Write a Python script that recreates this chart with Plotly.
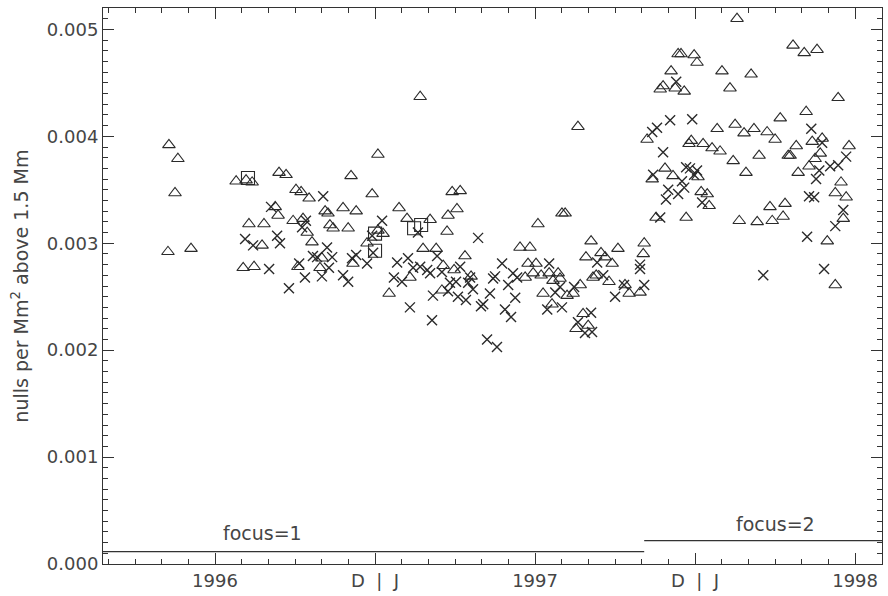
import plotly.graph_objects as go

# ---- data (decimal year, nulls per Mm^2) ----
tri_x = [1996.356, 1996.384, 1996.375, 1996.353, 1996.425, 1996.566, 1996.597, 1996.616, 1996.700, 1996.722,
         1996.753, 1996.769, 1996.688, 1996.697, 1996.606, 1996.653, 1996.744, 1996.775, 1996.647, 1996.588,
         1996.622, 1996.759, 1996.794, 1996.788, 1996.803, 1996.844, 1996.853, 1996.900, 1996.941, 1996.859,
         1996.869, 1996.916, 1996.925, 1996.991, 1997.009, 1997.075, 1997.141, 1996.828, 1996.834, 1996.931,
         1997.025, 1997.009, 1996.975, 1997.044, 1997.100, 1997.172, 1997.109, 1997.150, 1997.191, 1997.213,
         1997.209, 1997.225, 1997.228, 1997.241, 1997.266, 1997.256, 1997.281, 1997.247, 1997.300,
         1997.584, 1997.594, 1997.509, 1997.453, 1997.484, 1997.478, 1997.503, 1997.469, 1997.494, 1997.519,
         1997.544, 1997.572, 1997.578, 1997.556, 1997.525, 1997.600, 1997.619, 1997.641, 1997.553, 1997.650,
         1997.628, 1997.666, 1997.675, 1997.659, 1997.681, 1997.634,
         1997.759, 1997.841, 1997.838, 1997.706, 1997.719, 1997.741, 1997.691, 1997.731, 1997.781, 1997.828,
         1997.794,
         1998.131, 1997.947, 1997.956, 1997.997, 1998.006, 1997.925, 1998.084, 1997.891, 1997.900, 1997.938,
         1997.966, 1998.109, 1997.850, 1998.069, 1998.125, 1997.981, 1997.988, 1998.025, 1998.053, 1998.078,
         1998.119, 1997.906, 1997.866, 1997.931, 1998.009, 1998.019, 1998.038, 1998.044, 1997.878, 1997.972,
         1998.138,
         1998.306, 1998.341, 1998.381, 1998.175, 1998.447, 1998.347, 1998.266, 1998.153, 1998.184, 1998.225,
         1998.250, 1998.366, 1998.397, 1998.316, 1998.481, 1998.200, 1998.291, 1998.297, 1998.391, 1998.375,
         1998.356, 1998.322, 1998.159, 1998.456, 1998.438, 1998.472, 1998.463, 1998.234, 1998.281, 1998.275,
         1998.241, 1998.194, 1998.413, 1998.438]
tri_y = [0.00392, 0.00379, 0.00347, 0.00292, 0.00295, 0.00358, 0.00359, 0.00357, 0.00366, 0.00364,
         0.00350, 0.00348, 0.00334, 0.00326, 0.00318, 0.00318, 0.00321, 0.00323, 0.00298, 0.00277,
         0.00278, 0.00278, 0.00342, 0.00310, 0.00301, 0.00330, 0.00328, 0.00333, 0.00330, 0.00317,
         0.00314, 0.00314, 0.00363, 0.00346, 0.00383, 0.00333, 0.00437, 0.00277, 0.00286, 0.00281,
         0.00309, 0.00312, 0.00300, 0.00253, 0.00323, 0.00322, 0.00268, 0.00295, 0.00295, 0.00279,
         0.00256, 0.00311, 0.00326, 0.00348, 0.00349, 0.00332, 0.00288, 0.00275, 0.00269,
         0.00328, 0.00328, 0.00318, 0.00296, 0.00296, 0.00281, 0.00281, 0.00268, 0.00272, 0.00270,
         0.00272, 0.00272, 0.00267, 0.00265, 0.00253, 0.00251, 0.00253, 0.00261, 0.00243, 0.00234,
         0.00220, 0.00223, 0.00302, 0.00287, 0.00268, 0.00409,
         0.00295, 0.00300, 0.00290, 0.00291, 0.00287, 0.00281, 0.00270, 0.00264, 0.00261, 0.00254,
         0.00253,
         0.00510, 0.00477, 0.00477, 0.00476, 0.00469, 0.00461, 0.00461, 0.00444, 0.00447, 0.00445,
         0.00442, 0.00445, 0.00397, 0.00407, 0.00411, 0.00393, 0.00396, 0.00393, 0.00389, 0.00386,
         0.00377, 0.00370, 0.00360, 0.00363, 0.00362, 0.00348, 0.00346, 0.00335, 0.00324, 0.00324,
         0.00321,
         0.00485, 0.00478, 0.00481, 0.00458, 0.00436, 0.00423, 0.00417, 0.00403, 0.00407, 0.00404,
         0.00397, 0.00395, 0.00398, 0.00391, 0.00391, 0.00382, 0.00382, 0.00382, 0.00384, 0.00379,
         0.00372, 0.00366, 0.00366, 0.00357, 0.00347, 0.00343, 0.00323, 0.00334, 0.00337, 0.00325,
         0.00321, 0.00320, 0.00302, 0.00261]

cross_x = [1996.675, 1996.784, 1996.772, 1996.594, 1996.619, 1996.694, 1996.703, 1996.669, 1996.763, 1996.781,
           1996.731,
           1996.838, 1996.806, 1996.819, 1996.866, 1996.850, 1996.834, 1996.856, 1996.900, 1996.916, 1996.928,
           1996.941, 1996.975, 1997.022, 1996.991, 1996.994, 1997.069, 1997.103, 1997.059, 1997.084, 1997.119,
           1997.141, 1997.163, 1997.172, 1997.134, 1997.194, 1997.209, 1997.181, 1997.228, 1997.109, 1997.178,
           1997.322, 1997.266, 1997.297, 1997.234, 1997.253, 1997.291, 1997.306, 1997.259, 1997.284, 1997.338,
           1997.331, 1997.359, 1997.369, 1997.375, 1997.397, 1997.431, 1997.416, 1997.444, 1997.438, 1997.406,
           1997.425, 1997.544, 1997.578, 1997.563, 1997.622, 1997.538, 1997.584, 1997.350, 1997.381, 1997.634,
           1997.656, 1997.675, 1997.678,
           1997.941, 1997.922, 1997.991, 1997.881, 1997.866, 1997.900, 1997.869, 1997.972, 1997.984, 1998.006,
           1997.997, 1997.959, 1997.966, 1997.916, 1997.947, 1997.909, 1998.022, 1997.891, 1997.828, 1997.828,
           1997.841, 1997.778, 1997.750, 1997.694, 1997.713,
           1998.363, 1998.397, 1998.472, 1998.447, 1998.422, 1998.388, 1998.378, 1998.356, 1998.372, 1998.463,
           1998.438, 1998.350, 1998.213, 1998.403]
cross_y = [0.00334, 0.00321, 0.00315, 0.00304, 0.00298, 0.00307, 0.00300, 0.00276, 0.00281, 0.00268,
           0.00258,
           0.00344, 0.00288, 0.00287, 0.00287, 0.00296, 0.00269, 0.00277, 0.00270, 0.00264, 0.00286,
           0.00289, 0.00281, 0.00321, 0.00307, 0.00291, 0.00282, 0.00286, 0.00268, 0.00264, 0.00277,
           0.00278, 0.00275, 0.00272, 0.00310, 0.00288, 0.00273, 0.00251, 0.00255, 0.00240, 0.00228,
           0.00305, 0.00278, 0.00268, 0.00263, 0.00264, 0.00263, 0.00257, 0.00250, 0.00247, 0.00243,
           0.00241, 0.00253, 0.00267, 0.00269, 0.00281, 0.00272, 0.00261, 0.00268, 0.00249, 0.00238,
           0.00231, 0.00281, 0.00259, 0.00254, 0.00259, 0.00238, 0.00240, 0.00210, 0.00203, 0.00226,
           0.00216, 0.00235, 0.00217,
           0.00451, 0.00415, 0.00416, 0.00408, 0.00404, 0.00385, 0.00364, 0.00371, 0.00370, 0.00368,
           0.00364, 0.00358, 0.00352, 0.00350, 0.00346, 0.00341, 0.00338, 0.00324, 0.00280, 0.00276,
           0.00261, 0.00261, 0.00250, 0.00282, 0.00270,
           0.00407, 0.00394, 0.00381, 0.00373, 0.00372, 0.00368, 0.00360, 0.00344, 0.00343, 0.00331,
           0.00316, 0.00306, 0.00270, 0.00276]

sq_x = [1996.603, 1997.000, 1997.000, 1997.122, 1997.144]
sq_y = [0.00361, 0.00309, 0.00293, 0.00314, 0.00317]

# focus periods: start, end, level marker, label
focus_start = [1996.15, 1997.841]
focus_end = [1997.841, 1998.584]
focus_level = [0.000115, 0.000218]
focus_text = ["focus=1", "focus=2"]
focus_text_x = [1996.648, 1998.25]
focus_text_y = [0.00029, 0.00037]

tick_vals = [1996.5, 1997.0, 1997.5, 1998.0, 1998.5]
tick_text = ["1996", "D  |  J", "1997", "D  |  J", "1998"]
y_title = "nulls per Mm<sup>2</sup> above 1.5 Mm"

INK = "#2a2a2a"
TXT = "#454545"
FONT = "DejaVu Sans, sans-serif"

fig = go.Figure()
fig.add_trace(go.Scatter(x=tri_x, y=tri_y, mode="markers",
                         marker=dict(symbol="triangle-up-open", size=11, color=INK, line=dict(width=1.1, color=INK))))
fig.add_trace(go.Scatter(x=cross_x, y=cross_y, mode="markers",
                         marker=dict(symbol="x-thin-open", size=10, color=INK, line=dict(width=1.4, color=INK))))
fig.add_trace(go.Scatter(x=sq_x, y=sq_y, mode="markers",
                         marker=dict(symbol="square-open", size=13, color=INK, line=dict(width=1.1, color=INK))))
for s, e, lv in zip(focus_start, focus_end, focus_level):
    fig.add_trace(go.Scatter(x=[s, e], y=[lv, lv], mode="lines",
                             line=dict(color="#333333", width=1.3), hoverinfo="skip"))
for t, tx, ty in zip(focus_text, focus_text_x, focus_text_y):
    fig.add_annotation(x=tx, y=ty, text=t, showarrow=False,
                       font=dict(family=FONT, size=19, color=TXT), xanchor="center", yanchor="middle")

# y-axis title as a rotated annotation so it can sit near the page edge
fig.add_annotation(x=-0.107, y=0.5, xref="paper", yref="paper", text=y_title, textangle=-90,
                   showarrow=False, xanchor="center", yanchor="middle",
                   font=dict(family=FONT, size=19, color=TXT))

axis_common = dict(showgrid=False, zeroline=False, showline=True, linecolor="#333333", linewidth=1,
                   ticks="inside", ticklen=11, tickwidth=1, tickcolor="#333333", mirror="ticks",
                   tickfont=dict(family=FONT, size=18, color=TXT))

fig.update_xaxes(range=[1996.15, 1998.584], tickmode="array", tickvals=tick_vals, ticktext=tick_text,
                 minor=dict(ticks="inside", ticklen=5, tickcolor="#333333", tick0=1996.5, dtick=1/12),
                 **axis_common)
fig.update_yaxes(range=[0, 0.0052], tickmode="linear", tick0=0, dtick=0.001, tickformat=".3f",
                 minor=dict(ticks="inside", ticklen=5, tickcolor="#333333", dtick=0.0001),
                 **axis_common)

fig.update_layout(width=888, height=596, margin=dict(l=103, r=6, t=8, b=32),
                  paper_bgcolor="white", plot_bgcolor="white", showlegend=False)

fig.write_html("out.html")
